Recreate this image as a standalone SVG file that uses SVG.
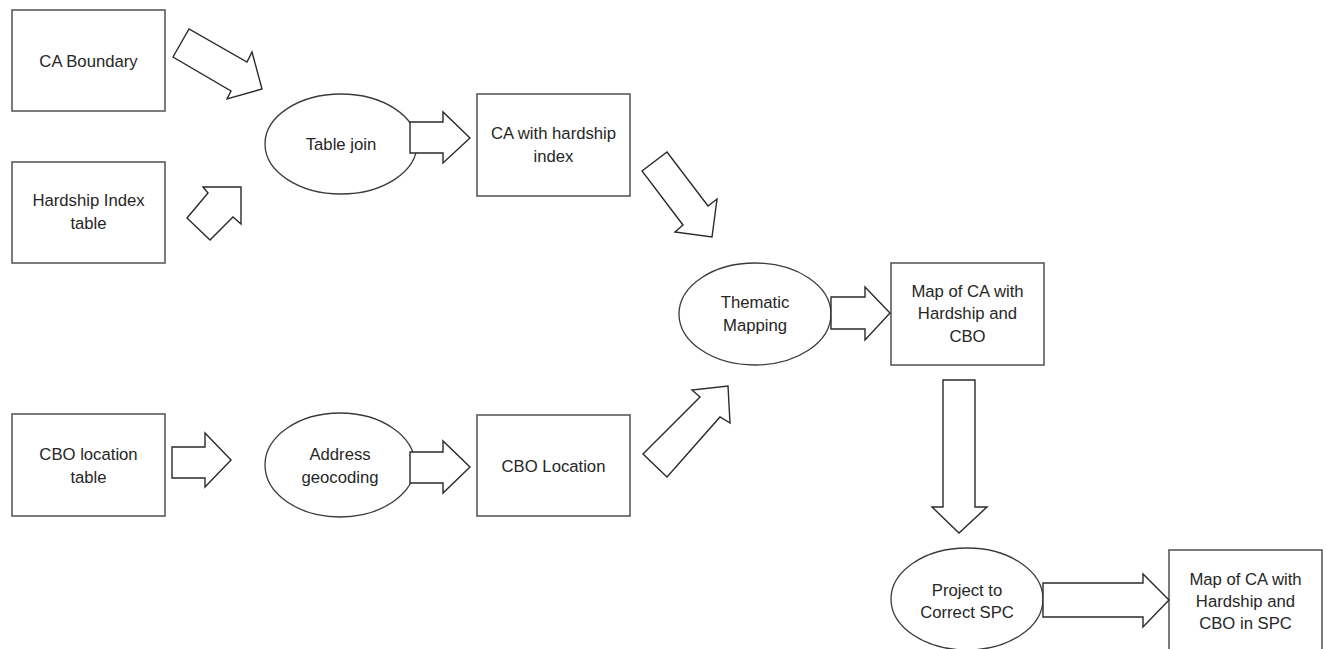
<svg xmlns="http://www.w3.org/2000/svg" width="1327" height="649" viewBox="0 0 1327 649">
  <style>
    .box { fill: #ffffff; stroke: #5a5a5a; stroke-width: 1.6; }
    .oval { fill: #ffffff; stroke: #3a3a3a; stroke-width: 1.3; }
    .arrow { fill: #ffffff; stroke: #2a2a2a; stroke-width: 1.4; stroke-linejoin: miter; }
    text { font-family: "Liberation Sans", Arial, sans-serif; font-size: 16.7px; fill: #262626; text-anchor: middle; }
  </style>
  <rect x="0" y="0" width="1327" height="649" fill="#ffffff"/>

  <g id="ca-boundary">
    <rect class="box" x="12" y="10" width="153" height="101"/>
    <text x="88.5" y="66.5">CA Boundary</text>
  </g>

  <g id="hardship-index-table">
    <rect class="box" x="12" y="162" width="153" height="101"/>
    <text x="88.5" y="206">Hardship Index</text>
    <text x="88.5" y="229">table</text>
  </g>

  <g id="cbo-location-table">
    <rect class="box" x="12" y="414" width="153" height="102"/>
    <text x="88.5" y="460">CBO location</text>
    <text x="88.5" y="483">table</text>
  </g>

  <g id="table-join">
    <ellipse class="oval" cx="341" cy="144" rx="76" ry="50"/>
    <text x="341" y="150">Table join</text>
  </g>

  <g id="address-geocoding">
    <ellipse class="oval" cx="340" cy="465" rx="75" ry="52"/>
    <text x="340" y="460">Address</text>
    <text x="340" y="483">geocoding</text>
  </g>

  <g id="ca-with-hardship-index">
    <rect class="box" x="477" y="94" width="153" height="102"/>
    <text x="553.5" y="139">CA with hardship</text>
    <text x="553.5" y="162">index</text>
  </g>

  <g id="cbo-location">
    <rect class="box" x="477" y="415" width="153" height="101"/>
    <text x="553.5" y="472">CBO Location</text>
  </g>

  <g id="thematic-mapping">
    <ellipse class="oval" cx="755" cy="314" rx="76" ry="51"/>
    <text x="755" y="308">Thematic</text>
    <text x="755" y="331">Mapping</text>
  </g>

  <g id="map-ca-hardship-cbo">
    <rect class="box" x="891" y="263" width="153" height="102"/>
    <text x="967.5" y="297">Map of CA with</text>
    <text x="967.5" y="319">Hardship and</text>
    <text x="967.5" y="342">CBO</text>
  </g>

  <g id="project-to-spc">
    <ellipse class="oval" cx="967" cy="599" rx="76" ry="51"/>
    <text x="967" y="596">Project to</text>
    <text x="967" y="618">Correct SPC</text>
  </g>

  <g id="map-ca-hardship-cbo-spc">
    <rect class="box" x="1169" y="550" width="153" height="104"/>
    <text x="1245.5" y="585">Map of CA with</text>
    <text x="1245.5" y="607">Hardship and</text>
    <text x="1245.5" y="629">CBO in SPC</text>
  </g>

  <!-- block-arrow connectors, painted over the node outlines -->
  <g id="connectors">
    <polygon class="arrow" points="173,57 189,29 247,62 252,52 262,89 227,99 231,91"/>
    <polygon class="arrow" points="187,218 208,193 203,187 241,187 241,224 233,217 210,240"/>
    <polygon class="arrow" points="410,122 443,122 443,112 470,138 443,163 443,153 410,153"/>
    <polygon class="arrow" points="642,171 667,152 708,206 717,199 712,237 675,232 683,225"/>
    <polygon class="arrow" points="831,297 865,297 865,287 890,313 865,340 865,329 831,329"/>
    <polygon class="arrow" points="643,454 700,397 692,390 728,386 730,423 720,417 667,477"/>
    <polygon class="arrow" points="943,380 975,380 975,507 987,507 959,533 932,507 943,507"/>
    <polygon class="arrow" points="1043,583 1143,583 1143,574 1169,600 1143,627 1143,617 1043,617"/>
    <polygon class="arrow" points="172,447 205,447 205,433 231,460 205,487 205,478 172,478"/>
    <polygon class="arrow" points="410,452 443,452 443,441 470,467 443,493 443,483 410,483"/>
  </g>
</svg>
